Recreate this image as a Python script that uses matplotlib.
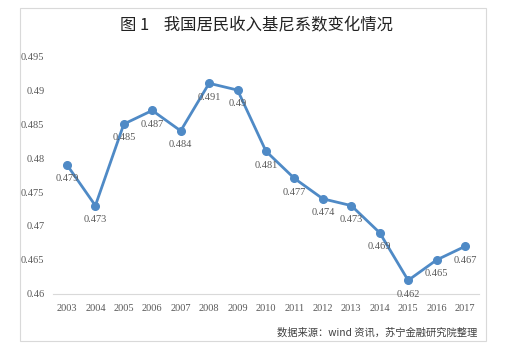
import matplotlib.pyplot as plt
from matplotlib.patches import Rectangle

plt.rcParams['font.family'] = ['Liberation Serif', 'Noto Sans CJK SC', 'DejaVu Sans']

years = ["2003", "2004", "2005", "2006", "2007", "2008", "2009", "2010",
         "2011", "2012", "2013", "2014", "2015", "2016", "2017"]
gini = [0.479, 0.473, 0.485, 0.487, 0.484, 0.491, 0.490, 0.481,
        0.477, 0.474, 0.473, 0.469, 0.462, 0.465, 0.467]
yticks = [0.46, 0.465, 0.47, 0.475, 0.48, 0.485, 0.49, 0.495]

fig = plt.figure(figsize=(5.12, 3.62), dpi=100)
fig.patch.set_facecolor("white")

# outer light frame
fig.patches.append(Rectangle((20 / 512, 1 - 341 / 362), 466 / 512, 333 / 362,
                             transform=fig.transFigure, fill=False,
                             edgecolor="#d9d9d9", linewidth=0.8))

ax = fig.add_axes([0.103, 0.188, 0.833, 0.657])
x = list(range(len(years)))
ax.plot(x, gini, color="#4f8ac6", linewidth=2.0, marker="o", markersize=5.5)

def fmt(v):
    return ("%.3f" % v).rstrip("0")

for xi, v in zip(x, gini):
    ax.annotate(fmt(v), (xi, v), xytext=(0, -10), textcoords="offset points",
                ha="center", va="center", fontsize=7.5, color="#595959")

ax.set_xlim(-0.5, len(years) - 0.5)
ax.set_ylim(0.46, 0.495)
ax.set_xticks(x)
ax.set_xticklabels(years)
ax.set_yticks(yticks)
ax.set_yticklabels([fmt(t) for t in yticks])
ax.tick_params(length=0, labelsize=7.5, labelcolor="#595959")
ax.tick_params(axis="x", pad=7)
ax.tick_params(axis="y", pad=6)
for s in ["top", "right", "left"]:
    ax.spines[s].set_visible(False)
ax.spines["bottom"].set_color("#d9d9d9")
ax.spines["bottom"].set_linewidth(0.8)

fig.text(0.5, 1 - 25 / 362, "图 1    我国居民收入基尼系数变化情况",
         ha="center", va="center", fontsize=11.8, color="#222222",
         family=["Noto Sans CJK SC", "DejaVu Sans"])
fig.text(0.932, 1 - 333 / 362, "数据来源：wind 资讯，苏宁金融研究院整理",
         ha="right", va="center", fontsize=7.4, color="#404040", style="italic",
         family=["Noto Sans CJK SC", "DejaVu Sans"])

fig.savefig("out.png", dpi=100)
